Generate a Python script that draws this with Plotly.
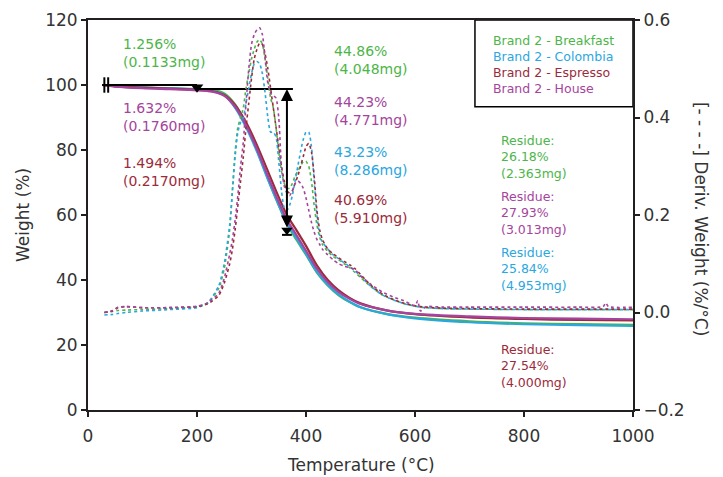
import plotly.graph_objects as go

# ---- TGA weight curves (%), by temperature (°C) ----
temp_tga = [26, 50, 100, 150, 200, 230, 250, 270, 290, 310, 330, 350, 365, 380,
            400, 420, 440, 460, 480, 500, 550, 600, 700, 800, 900, 1000]
wt_breakfast = [100, 99.6, 99.2, 99.0, 98.74, 98.4, 97.4, 94.0, 88.0, 80.0, 71.2, 63.0, 57.2, 53.0,
                47.8, 42.3, 38.3, 35.3, 33.2, 31.6, 29.5, 28.4, 27.3, 26.7, 26.4, 26.18]
wt_colombia = [100, 99.7, 99.3, 99.0, 98.6, 98.1, 96.9, 93.0, 87.0, 79.5, 71.0, 63.0, 57.5, 53.5,
               48.0, 42.5, 38.5, 35.5, 33.3, 31.6, 29.4, 28.2, 27.0, 26.4, 26.1, 25.84]
wt_espresso = [100, 99.6, 99.2, 98.9, 98.5, 98.0, 96.9, 93.8, 88.5, 81.5, 73.5, 65.5, 60.0, 56.0,
               50.5, 44.5, 40.0, 36.8, 34.5, 32.8, 30.6, 29.5, 28.5, 28.0, 27.7, 27.54]
wt_house = [100, 99.5, 99.0, 98.7, 98.37, 97.9, 96.7, 93.3, 87.6, 80.3, 72.0, 64.0, 58.5, 54.5,
            49.0, 43.5, 39.3, 36.3, 34.2, 32.6, 30.6, 29.6, 28.8, 28.3, 28.1, 27.93]

# ---- DTG derivative curves (%/°C) ----
temp_dtg = [30, 45, 55, 70, 100, 150, 200, 220, 240, 250, 260, 265, 270, 275, 280, 285, 290,
            295, 300, 305, 310, 315, 320, 325, 330, 335, 340, 345, 350, 355, 360, 365, 370,
            375, 380, 385, 390, 395, 400, 405, 410, 415, 420, 425, 430, 440, 450, 460, 470,
            480, 490, 500, 510, 520, 540, 560, 580, 600, 605, 610, 620, 650, 700, 800, 900,
            945, 950, 955, 1000]
dtg_breakfast = [0.0, 0.002, 0.004, 0.005, 0.006, 0.008, 0.012, 0.02, 0.05, 0.09, 0.17, 0.25, 0.33,
                 0.38, 0.40, 0.42, 0.46, 0.49, 0.52, 0.54, 0.555, 0.56, 0.55, 0.52, 0.48, 0.44,
                 0.42, 0.38, 0.33, 0.29, 0.265, 0.255, 0.255, 0.265, 0.28, 0.29, 0.30, 0.31, 0.31,
                 0.30, 0.27, 0.22, 0.18, 0.155, 0.14, 0.125, 0.115, 0.108, 0.10, 0.092, 0.082,
                 0.072, 0.062, 0.052, 0.036, 0.026, 0.018, 0.013, 0.012, 0.011, 0.01, 0.008,
                 0.007, 0.006, 0.006, 0.006, 0.006, 0.006, 0.006]
dtg_colombia = [-0.005, -0.004, -0.002, 0.0, 0.003, 0.006, 0.01, 0.02, 0.055, 0.10, 0.18, 0.25, 0.32,
                0.37, 0.39, 0.40, 0.43, 0.46, 0.49, 0.51, 0.515, 0.51, 0.49, 0.45, 0.40, 0.37,
                0.37, 0.36, 0.31, 0.25, 0.215, 0.21, 0.22, 0.24, 0.27, 0.30, 0.33, 0.355, 0.37,
                0.37, 0.34, 0.27, 0.20, 0.16, 0.145, 0.13, 0.118, 0.11, 0.102, 0.094, 0.085,
                0.075, 0.063, 0.053, 0.036, 0.026, 0.018, 0.013, 0.012, 0.011, 0.01, 0.008,
                0.007, 0.006, 0.006, 0.006, 0.006, 0.006, 0.006]
dtg_espresso = [0.0, 0.003, 0.01, 0.012, 0.01, 0.01, 0.012, 0.018, 0.035, 0.06, 0.10, 0.13, 0.17,
                0.22, 0.27, 0.32, 0.38, 0.43, 0.48, 0.52, 0.54, 0.553, 0.55, 0.53, 0.50, 0.46,
                0.42, 0.38, 0.34, 0.30, 0.27, 0.25, 0.245, 0.25, 0.265, 0.28, 0.30, 0.32, 0.34,
                0.347, 0.33, 0.28, 0.21, 0.17, 0.15, 0.13, 0.12, 0.112, 0.105, 0.098, 0.09,
                0.078, 0.066, 0.055, 0.038, 0.027, 0.019, 0.014, 0.013, 0.012, 0.011, 0.009,
                0.008, 0.007, 0.007, 0.007, 0.007, 0.007, 0.007]
dtg_house = [0.0, 0.004, 0.011, 0.012, 0.01, 0.01, 0.013, 0.02, 0.04, 0.07, 0.12, 0.15, 0.19,
             0.24, 0.30, 0.35, 0.43, 0.50, 0.55, 0.57, 0.58, 0.584, 0.57, 0.52, 0.47, 0.45,
             0.445, 0.44, 0.40, 0.30, 0.26, 0.245, 0.24, 0.25, 0.265, 0.27, 0.265, 0.255, 0.235,
             0.21, 0.185, 0.165, 0.15, 0.14, 0.13, 0.118, 0.108, 0.10, 0.095, 0.092, 0.088,
             0.075, 0.066, 0.057, 0.042, 0.032, 0.024, 0.014, 0.024, 0.003, 0.012, 0.011,
             0.011, 0.011, 0.011, 0.012, 0.02, 0.012, 0.011]

# ---- labels ----
names = ["Brand 2 - Breakfast", "Brand 2 - Colombia", "Brand 2 - Espresso", "Brand 2 - House"]
colors = ["#4db549", "#2aa7df", "#9b2b3a", "#a5449c"]
step1_labels = [("1.256%", "(0.1133mg)", 0), ("1.632%", "(0.1760mg)", 3), ("1.494%", "(0.2170mg)", 2)]
step2_labels = [("44.86%", "(4.048mg)", 0), ("44.23%", "(4.771mg)", 3),
                ("43.23%", "(8.286mg)", 1), ("40.69%", "(5.910mg)", 2)]
residue_labels = [("26.18%", "(2.363mg)", 0), ("27.93%", "(3.013mg)", 3),
                  ("25.84%", "(4.953mg)", 1), ("27.54%", "(4.000mg)", 2)]
step1_loss = 1.256
step2_loss = 44.86
x_ticks = [0, 200, 400, 600, 800, 1000]
y_ticks = [0, 20, 40, 60, 80, 100, 120]
y2_ticks = [-0.2, 0.0, 0.2, 0.4, 0.6]

FONT = "DejaVu Sans"
AXIS = "#231f20"
TEXT = "#333333"

fig = go.Figure()

weights = [wt_breakfast, wt_colombia, wt_espresso, wt_house]
dtgs = [dtg_breakfast, dtg_colombia, dtg_espresso, dtg_house]

for n, c, d in zip(names, colors, dtgs):
    fig.add_trace(go.Scatter(x=temp_dtg, y=d, yaxis="y2", mode="lines", name=n,
                             line=dict(color=c, width=1.6, dash="dot", shape="spline",
                                       smoothing=0.6),
                             showlegend=False))
for n, c, w in zip(names, colors, weights):
    fig.add_trace(go.Scatter(x=temp_tga, y=w, mode="lines", name=n,
                             line=dict(color=c, width=2.2, shape="spline", smoothing=0.8),
                             showlegend=False))

# step-analysis markings
t_start, t_step1, t_step2 = 26, 200, 365
lvl1 = 100 - step1_loss
lvl2 = lvl1 - step2_loss
fig.add_trace(go.Scatter(x=[t_start, t_step1], y=[100, 100], mode="lines",
                         line=dict(color="black", width=2), showlegend=False))
fig.add_trace(go.Scatter(x=[30, 37], y=[100, 100], mode="markers",
                         marker=dict(symbol="line-ns", size=11, line=dict(color="black", width=2)),
                         showlegend=False))
fig.add_trace(go.Scatter(x=[t_step1, 376], y=[lvl1, lvl1], mode="lines",
                         line=dict(color="black", width=2), showlegend=False))
fig.add_trace(go.Scatter(x=[t_step1], y=[99.3], mode="markers",
                         marker=dict(symbol="triangle-down", size=11, color="black"),
                         showlegend=False))
fig.add_trace(go.Scatter(x=[t_step2], y=[lvl2 + 1.4], mode="markers",
                         marker=dict(symbol="triangle-down", size=10, color="black"),
                         showlegend=False))
fig.add_trace(go.Scatter(x=[356, 374], y=[lvl2, lvl2], mode="lines",
                         line=dict(color="black", width=2), showlegend=False))
fig.add_annotation(x=t_step2, y=lvl1, ax=t_step2, ay=lvl2 + 1.8, xref="x", yref="y",
                   axref="x", ayref="y", text="", showarrow=True, arrowhead=2,
                   arrowside="end+start", arrowsize=1.2, arrowwidth=2, arrowcolor="black")

def add_label(x, y, lines, color, size):
    fig.add_annotation(x=x, y=y, xref="x", yref="y", text="<br>".join(lines),
                       showarrow=False, xanchor="left", yanchor="middle", align="left",
                       font=dict(family=FONT, size=size, color=color))

for (a, b, i), y in zip(step1_labels, [110.0, 90.1, 73.2]):
    add_label(61, y, [a, b], colors[i], 14)
for (a, b, i), y in zip(step2_labels, [107.8, 92.1, 76.7, 61.7]):
    add_label(448, y, [a, b], colors[i], 14)
for (a, b, i), y in zip(residue_labels, [78.0, 60.5, 43.3, 13.5]):
    add_label(754, y, ["Residue:", a, b], colors[i], 12.5)

# legend box with coloured names
fig.add_shape(type="rect", xref="x", yref="y", x0=710, x1=1000, y0=93.3, y1=120,
              line=dict(color="black", width=1.5))
for n, c, y in zip(names, colors, [113.7, 108.9, 104.0, 99.0]):
    fig.add_annotation(x=739, y=y, xref="x", yref="y", text=n, showarrow=False,
                       xanchor="left", yanchor="middle",
                       font=dict(family=FONT, size=12.5, color=c))

# axis titles
fig.add_annotation(x=0.5, y=0, xref="paper", yref="paper", yshift=-55,
                   text="Temperature (°C)", showarrow=False, yanchor="middle",
                   font=dict(family=FONT, size=17, color=TEXT))
fig.add_annotation(x=0, y=0.5, xref="paper", yref="paper", xshift=-65,
                   text="Weight (%)", textangle=-90, showarrow=False, xanchor="center",
                   font=dict(family=FONT, size=17, color=TEXT))
fig.add_annotation(x=1.0, y=0.49, xref="paper", yref="paper", xshift=68,
                   text="[- - - -] Deriv. Weight (%/°C)", textangle=90, showarrow=False,
                   xanchor="center", font=dict(family=FONT, size=17, color=TEXT))

fig.update_layout(
    width=723, height=477,
    margin=dict(l=88, r=90, t=20, b=67, autoexpand=False),
    paper_bgcolor="white", plot_bgcolor="white",
    font=dict(family=FONT, size=17, color=TEXT),
    xaxis=dict(range=[0, 1000], tickvals=x_ticks, showgrid=False, zeroline=False,
               showline=True, linecolor=AXIS, linewidth=2, mirror=True,
               ticks="outside", ticklen=5, tickwidth=1.5, tickcolor=AXIS,
               ticklabelstandoff=5, automargin=False),
    yaxis=dict(range=[0, 120], tickvals=y_ticks, showgrid=False, zeroline=False,
               showline=True, linecolor=AXIS, linewidth=2, automargin=False,
               ticks="outside", ticklen=5, tickwidth=1.5, tickcolor=AXIS),
    yaxis2=dict(range=[-0.2, 0.6], tickvals=y2_ticks, tickformat=".1f", overlaying="y",
                side="right", showgrid=False, zeroline=False, automargin=False,
                showline=True, linecolor=AXIS, linewidth=2,
                ticks="outside", ticklen=5, tickwidth=1.5, tickcolor=AXIS),
)

fig.write_html("out.html")
